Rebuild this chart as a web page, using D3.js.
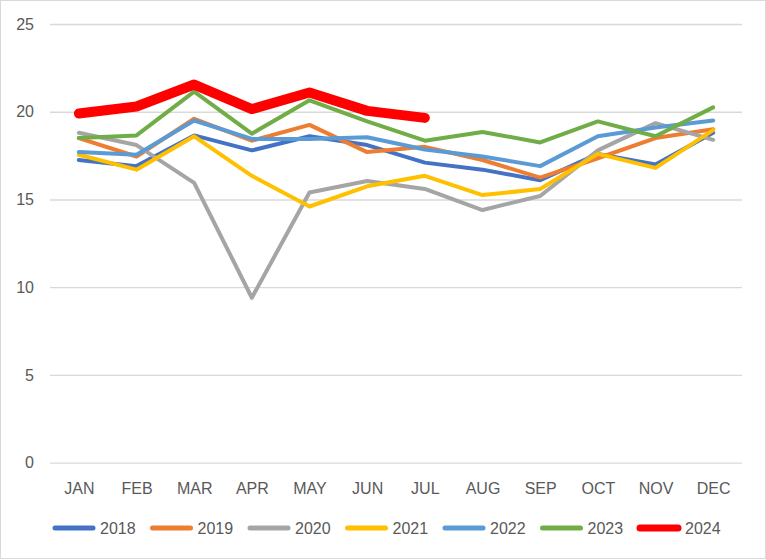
<!DOCTYPE html>
<html lang="en">
<head>
  <meta charset="UTF-8">
  <title>Monthly lines</title>
  <script src="https://cdnjs.cloudflare.com/ajax/libs/d3/7.8.5/d3.min.js"></script>
  <style>
    body { margin: 0; background: #fff; }
    text { font-family: "Liberation Sans", Arial, sans-serif; fill: #595959; }
  </style>
</head>
<body>
  <div id="chart"></div>
  <script>
// data
var months = ["JAN", "FEB", "MAR", "APR", "MAY", "JUN", "JUL", "AUG", "SEP", "OCT", "NOV", "DEC"];
var years = ["2018", "2019", "2020", "2021", "2022", "2023", "2024"];
var colors = ["#4472C4", "#ED7D31", "#A5A5A5", "#FFC000", "#5B9BD5", "#70AD47", "#FF0000"];
var yTicks = [0, 5, 10, 15, 20, 25];

var v2018 = [17.25, 16.9, 18.65, 17.8, 18.6, 18.1, 17.1, 16.7, 16.1, 17.6, 17.0, 18.8];
var v2019 = [18.5, 17.45, 19.6, 18.35, 19.25, 17.7, 18.0, 17.25, 16.25, 17.35, 18.5, 19.0];
var v2020 = [18.8, 18.1, 15.95, 9.4, 15.4, 16.05, 15.6, 14.4, 15.2, 17.8, 19.35, 18.4];
var v2021 = [17.55, 16.7, 18.6, 16.35, 14.6, 15.75, 16.35, 15.25, 15.6, 17.6, 16.8, 18.95];
var v2022 = [17.7, 17.55, 19.5, 18.45, 18.45, 18.55, 17.85, 17.45, 16.9, 18.6, 19.1, 19.5];
var v2023 = [18.5, 18.65, 21.15, 18.75, 20.65, 19.45, 18.35, 18.85, 18.25, 19.45, 18.6, 20.25];
var v2024 = [19.9, 20.3, 21.55, 20.15, 21.1, 20.05, 19.65];

var series = [v2018, v2019, v2020, v2021, v2022, v2023, v2024];

var svgWidth = 766;
var svgHeight = 560;

var svg = d3.select("#chart")
  .append("svg")
  .attr("width", svgWidth)
  .attr("height", svgHeight);

// chart area border
svg.append("rect")
  .attr("x", 0.5).attr("y", 0.5)
  .attr("width", svgWidth - 1).attr("height", svgHeight - 2)
  .attr("fill", "#fff")
  .attr("stroke", "#D9D9D9");

var x = d3.scalePoint()
  .domain(months)
  .range([50, 742])
  .padding(0.5);

var y = d3.scaleLinear()
  .domain([0, 25])
  .range([462.7, 24]);

// gridlines + y labels
var yAxis = d3.axisLeft(y)
  .tickValues(yTicks)
  .tickSize(-(742 - 50))
  .tickPadding(16)
  .tickFormat(d3.format("d"));

var gy = svg.append("g")
  .attr("transform", "translate(50,0)")
  .call(yAxis);
gy.select(".domain").remove();
gy.selectAll("line").attr("stroke", "#D9D9D9").attr("stroke-width", 1.3);
gy.selectAll("text").style("font-size", "16px").attr("fill", "#595959");

// month labels
var xAxis = d3.axisBottom(x).tickSize(0).tickPadding(0);
var gx = svg.append("g")
  .attr("transform", "translate(0,480)")
  .call(xAxis);
gx.select(".domain").remove();
gx.selectAll("text").style("font-size", "16px").attr("fill", "#595959").attr("dy", "0.85em");

var line = d3.line()
  .x(function(d, i) { return x(months[i]); })
  .y(function(d) { return y(d); });

svg.selectAll(".series")
  .data(series)
  .enter()
  .append("path")
  .attr("class", "series")
  .attr("d", line)
  .attr("fill", "none")
  .attr("stroke", function(d, i) { return colors[i]; })
  .attr("stroke-width", function(d, i) { return years[i] === "2024" ? 10 : 4; })
  .attr("stroke-linejoin", "round")
  .attr("stroke-linecap", "round");

// legend
var legend = svg.selectAll(".legend")
  .data(years)
  .enter()
  .append("g")
  .attr("class", "legend")
  .attr("transform", function(d, i) { return "translate(" + (55 + i * 97.5) + ",528)"; });

legend.append("line")
  .attr("x1", 0).attr("x2", 38)
  .attr("y1", 0).attr("y2", 0)
  .attr("stroke", function(d, i) { return colors[i]; })
  .attr("stroke-width", function(d) { return d === "2024" ? 7 : 5; })
  .attr("stroke-linecap", "round");

legend.append("text")
  .attr("x", 45)
  .attr("y", 6)
  .style("font-size", "16px")
  .text(function(d) { return d; });
  </script>
</body>
</html>
